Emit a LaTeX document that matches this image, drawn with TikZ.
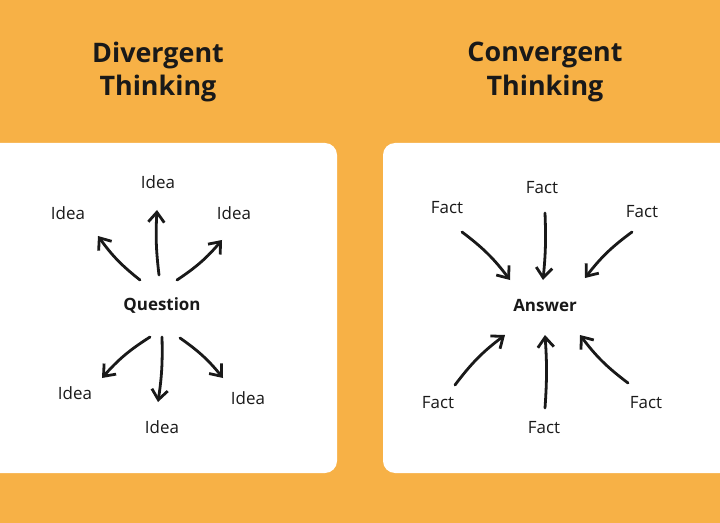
\documentclass[tikz,border=0pt]{standalone}
\usepackage{fontspec}
\setmainfont{Open Sans}
\usetikzlibrary{arrows.meta}
\definecolor{bg}{RGB}{247,177,70}
\definecolor{ink}{RGB}{25,25,25}
\begin{document}
\begin{tikzpicture}[x=1bp,y=-1bp,
  title/.style={font=\bfseries\fontsize{27}{34}\selectfont,text=ink,align=center},
  lab/.style={font=\fontsize{17}{20}\selectfont,text=ink},
  hub/.style={font=\bfseries\fontsize{17}{20}\selectfont,text=ink},
  arr/.style={draw=ink,line width=2.8bp,line cap=round,-{Straight Barb[length=10bp,width=16bp,line width=2.8bp]}}]
\fill[bg] (0,0) rectangle (720,523);
\useasboundingbox (0,0) rectangle (720,523);
\fill[white,rounded corners=12bp] (-20,143) rectangle (337,473);
\fill[white,rounded corners=12bp] (383,143) rectangle (740,473);
\node[title] (t1) at (158,72) {Divergent\\Thinking};
\node[title] (t2) at (545,72) {Convergent\\Thinking};
\node[hub] (q) at (162,306) {Question};
\node[lab] (i1) at (158,182) {Idea};
\node[lab] (i2) at (68,213) {Idea};
\node[lab] (i3) at (234,213) {Idea};
\node[lab] (i4) at (75,393) {Idea};
\node[lab] (i5) at (162,427) {Idea};
\node[lab] (i6) at (248,398) {Idea};
\coordinate (a1) at (159,275); \coordinate (b1) at (157,210);
\coordinate (a2) at (140,280); \coordinate (b2) at (98,236);
\coordinate (a3) at (177,280); \coordinate (b3) at (222,240);
\coordinate (a4) at (150,337); \coordinate (b4) at (102,378);
\coordinate (a5) at (162,337); \coordinate (b5) at (158,402);
\coordinate (a6) at (180,338); \coordinate (b6) at (223,378);
\draw[arr] (a1) to[bend left=5] (b1);
\draw[arr] (a2) to[bend left=8] (b2);
\draw[arr] (a3) to[bend right=8] (b3);
\draw[arr] (a4) to[bend right=8] (b4);
\draw[arr] (a5) to[bend left=5] (b5);
\draw[arr] (a6) to[bend left=8] (b6);
\node[hub] (ans) at (545,306) {Answer};
\node[lab] (f1) at (447,208) {Fact};
\node[lab] (f2) at (542,188) {Fact};
\node[lab] (f3) at (642,212) {Fact};
\node[lab] (f4) at (438,403) {Fact};
\node[lab] (f5) at (544,428) {Fact};
\node[lab] (f6) at (646,403) {Fact};
\coordinate (c1) at (462,232); \coordinate (d1) at (510,280);
\coordinate (c2) at (545,213); \coordinate (d2) at (543,280);
\coordinate (c3) at (632,232); \coordinate (d3) at (585,278);
\coordinate (c4) at (455,385); \coordinate (d4) at (505,335);
\coordinate (c5) at (545,408); \coordinate (d5) at (545,335);
\coordinate (c6) at (628,383); \coordinate (d6) at (580,335);
\draw[arr] (c1) to[bend left=8] (d1);
\draw[arr] (c2) to[bend left=4] (d2);
\draw[arr] (c3) to[bend right=8] (d3);
\draw[arr] (c4) to[bend left=8] (d4);
\draw[arr] (c5) to[bend right=4] (d5);
\draw[arr] (c6) to[bend left=8] (d6);
\end{tikzpicture}
\end{document}
